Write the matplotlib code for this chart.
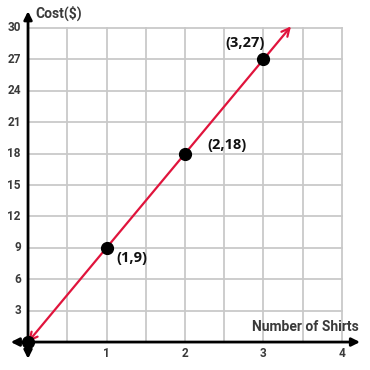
import matplotlib
matplotlib.use("Agg")
import matplotlib.pyplot as plt

# Data
shirts = [1, 2, 3]
cost = [9, 18, 27]
point_labels = ["(1,9)", "(2,18)", "(3,27)"]
x_ticks = [1, 2, 3, 4]
y_ticks = [3, 6, 9, 12, 15, 18, 21, 24, 27, 30]
x_label = "Number of Shirts"
y_label = "Cost($)"
rate = 9

fig = plt.figure(figsize=(3.7, 3.7), dpi=100)
ax = fig.add_axes([0, 0, 1, 1])
ax.set_xlim(-0.357, 4.357)
ax.set_ylim(-2.67, 32.67)
ax.axis("off")

grid_c = "#c9c9c9"
for i in range(1, 9):
    gx = i * 0.5
    ax.plot([gx, gx], [0, 30], color=grid_c, lw=1.3, zorder=1)
for gy in y_ticks:
    ax.plot([0, 4], [gy, gy], color=grid_c, lw=1.3, zorder=1)

# axes with arrows
ax.annotate("", xy=(4.23, 0), xytext=(-0.22, 0),
            arrowprops=dict(arrowstyle="<|-|>", color="black", lw=2, mutation_scale=12, shrinkA=0, shrinkB=0), zorder=3)
ax.annotate("", xy=(0, 31.6), xytext=(0, -1.6),
            arrowprops=dict(arrowstyle="<|-|>", color="black", lw=2, mutation_scale=12, shrinkA=0, shrinkB=0), zorder=3)

# red line with arrows
red = "#e0143c"
x_end = 3.35
ax.annotate("", xy=(x_end, rate * x_end), xytext=(0, 0),
            arrowprops=dict(arrowstyle="<->", color=red, lw=1.6, mutation_scale=14, shrinkA=0, shrinkB=0), zorder=4)

# points
ax.plot([0] + shirts, [0] + cost, "o", color="black", ms=8.5, zorder=5, linestyle="none")

font = "Roboto"
offsets = [(0.13, -1.0, "left"), (0.28, 0.8, "left"), (-0.24, 1.6, "center")]
for (px, py, lab, (dx, dy, ha)) in zip(shirts, cost, point_labels, offsets):
    ax.text(px + dx, py + dy, lab, ha=ha, va="center", fontsize=10.5, fontweight="bold",
            color="#111111", family="Open Sans", zorder=6)

for t in x_ticks:
    ax.text(t, -1.1, str(t), ha="center", va="center", fontsize=8.5, color="#3a3a3a",
            family=font, fontweight="bold")
for t in y_ticks:
    ax.text(-0.09, t, str(t), ha="right", va="center", fontsize=8.5, color="#3a3a3a",
            family=font, fontweight="bold")

ax.text(0.1, 31.4, y_label, ha="left", va="center", fontsize=10, color="#3a3a3a",
        family=font, fontweight="bold")
ax.text(4.22, 1.45, x_label, ha="right", va="center", fontsize=10, color="#3a3a3a",
        family=font, fontweight="bold")

fig.savefig("out.png", dpi=100)
